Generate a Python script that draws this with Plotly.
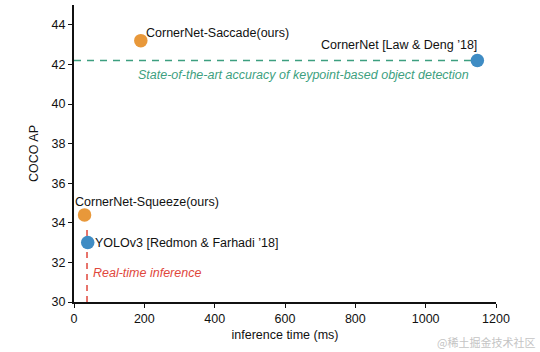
import plotly.graph_objects as go

methods = ["CornerNet-Saccade(ours)", "CornerNet [Law & Deng ’18]",
           "CornerNet-Squeeze(ours)", "YOLOv3 [Redmon & Farhadi ’18]"]
times_ms = [190, 1147, 30, 39]
coco_ap = [43.2, 42.2, 34.4, 33.0]
colors = ["#E8983A", "#3F8CC4", "#E8983A", "#3F8CC4"]

sota_ap = 42.2
realtime_ms = 37

FONT = "Liberation Sans, Arial, Helvetica, sans-serif"
GREEN = "#3D9F80"
RED = "#E0473C"
FS = 12.5

fig = go.Figure()

fig.add_trace(go.Scatter(x=[0, times_ms[1]], y=[sota_ap, sota_ap], mode="lines",
                         line=dict(color=GREEN, width=1.5, dash="7px,6px"),
                         hoverinfo="skip", showlegend=False))
fig.add_trace(go.Scatter(x=[realtime_ms, realtime_ms], y=[30, 33.8], mode="lines",
                         line=dict(color=RED, width=1.5, dash="6px,5px"),
                         hoverinfo="skip", showlegend=False))

fig.add_trace(go.Scatter(x=times_ms, y=coco_ap, mode="markers",
                         marker=dict(size=13.5, color=colors, line=dict(width=0)),
                         cliponaxis=False, showlegend=False))

label_cfg = [
    dict(xanchor="left", xshift=3, yshift=8),
    dict(xanchor="right", xshift=2, yshift=15),
    dict(xanchor="left", xshift=-12, yshift=13),
    dict(xanchor="left", xshift=5, yshift=0),
]
for m, t, a, cfg in zip(methods, times_ms, coco_ap, label_cfg):
    fig.add_annotation(x=t, y=a, text=m, showarrow=False, yanchor="middle",
                       font=dict(family=FONT, size=FS, color="#111111"), **cfg)

fig.add_annotation(x=176, y=41.49, text="<i>State-of-the-art accuracy of keypoint-based object detection</i>",
                   showarrow=False, xanchor="left", yanchor="middle",
                   font=dict(family=FONT, size=FS, color=GREEN))
fig.add_annotation(x=48, y=31.47, text="<i>Real-time inference</i>",
                   showarrow=False, xanchor="left", yanchor="middle",
                   font=dict(family=FONT, size=FS, color=RED))

fig.add_annotation(xref="paper", yref="paper", x=1, y=0, xanchor="right", yanchor="middle",
                   xshift=41, yshift=-40, text="@稀土掘金技术社区", showarrow=False,
                   font=dict(family="Noto Sans CJK SC", size=11, color="#c4c4c4"))

fig.update_layout(
    width=540, height=352,
    margin=dict(l=73.5, r=43.5, t=5, b=49.5),
    paper_bgcolor="white", plot_bgcolor="white",
    font=dict(family=FONT, size=FS, color="#111111"),
    xaxis=dict(range=[0, 1200], tickvals=[0, 200, 400, 600, 800, 1000, 1200],
               showgrid=False, zeroline=False, showline=True, linecolor="#111111",
               linewidth=2, ticks="outside", ticklen=4, tickwidth=1, tickcolor="#111111",
               title=dict(text="inference time (ms)", standoff=5, font=dict(size=FS))),
    yaxis=dict(range=[30, 45], tickvals=[30, 32, 34, 36, 38, 40, 42, 44],
               showgrid=False, zeroline=False, showline=True, linecolor="#111111",
               linewidth=2, ticks="outside", ticklen=4, tickwidth=1, tickcolor="#111111",
               title=dict(text="COCO AP", standoff=10, font=dict(size=FS))),
)

fig.write_html("out.html")
